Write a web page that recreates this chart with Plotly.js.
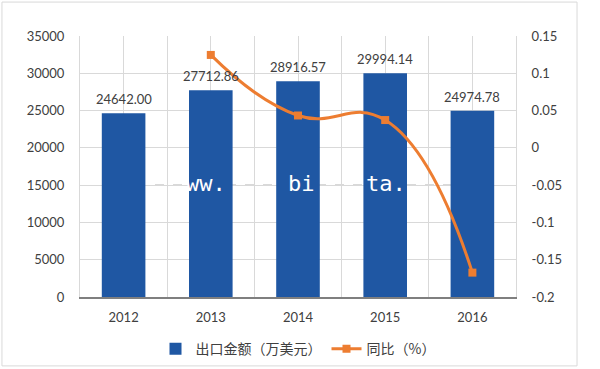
<!DOCTYPE html>
<html>
<head>
<meta charset="utf-8">
<script src="https://cdn.plot.ly/plotly-3.0.1.min.js"></script>
<style>
  html, body { margin: 0; padding: 0; background: #fff; }
  #chart { width: 600px; height: 369px; }
</style>
</head>
<body>
<div id="chart"></div>
<script>
// ---- data ----
const years = [2012, 2013, 2014, 2015, 2016];
const yearLabels = ['2012', '2013', '2014', '2015', '2016'];
const exportValues = [24642.00, 27712.86, 28916.57, 29994.14, 24974.78];
const growthYears = [2013, 2014, 2015, 2016];
const growthValues = [0.1246, 0.0434, 0.0373, -0.1673];
const leftTicks = [0, 5000, 10000, 15000, 20000, 25000, 30000, 35000];
const rightTicks = [-0.2, -0.15, -0.1, -0.05, 0, 0.05, 0.1, 0.15];
const rightTickText = ['-0.2', '-0.15', '-0.1', '-0.05', '0', '0.05', '0.1', '0.15'];
const barName = '出口金额（万美元）';
const lineName = '同比（%）';

const FONT = 'Lato, "Noto Sans CJK SC", sans-serif';
const TXT = '#404040';
const GRID = '#d9d9d9';
const BLUE = '#1f57a3';
const ORANGE = '#ed7d31';

const bars = {
  type: 'bar',
  x: years,
  y: exportValues,
  name: barName,
  width: 0.5,
  marker: { color: BLUE },
  hoverinfo: 'x+y'
};

const line = {
  type: 'scatter',
  mode: 'lines+markers',
  x: growthYears,
  y: growthValues,
  name: lineName,
  yaxis: 'y2',
  line: { color: ORANGE, width: 3, shape: 'spline', smoothing: 1.3 },
  marker: { color: ORANGE, symbol: 'square', size: 8 }
};

const labelAnnotations = years.map((yr, i) => ({
  x: yr, y: exportValues[i], xref: 'x', yref: 'y',
  text: exportValues[i].toFixed(2),
  showarrow: false, yanchor: 'middle', yshift: 14,
  font: { family: FONT, size: 13, color: TXT }
}));

const watermark = [
  { text: 'ww.', x: 0.289 },
  { text: 'bi', x: 0.509 },
  { text: 'ta.', x: 0.702 }
].map(w => ({
  x: w.x, y: 0.433, xref: 'paper', yref: 'paper', text: w.text,
  showarrow: false, xanchor: 'center', yanchor: 'middle',
  font: { family: '"DejaVu Sans Mono", monospace', size: 22, color: '#ffffff' }
}));

const layout = {
  width: 600,
  height: 369,
  margin: { l: 80, r: 84, t: 36, b: 72, pad: 0, autoexpand: false },
  paper_bgcolor: '#ffffff',
  plot_bgcolor: '#ffffff',
  font: { family: FONT, size: 13, color: TXT },
  showlegend: true,
  legend: {
    orientation: 'h', x: 0.5, xanchor: 'center',
    yref: 'container', y: 0.054, yanchor: 'middle',
    font: { family: '"Noto Sans CJK SC", sans-serif', size: 14, color: TXT },
    traceorder: 'normal'
  },
  xaxis: {
    range: [2011.5, 2016.5],
    tickmode: 'array', tickvals: years, ticktext: yearLabels,
    showgrid: true, gridcolor: GRID, gridwidth: 1,
    minor: { dtick: 0.5, tick0: 2011.5, showgrid: true, gridcolor: GRID, gridwidth: 1 },
    showline: true, linecolor: '#7f7f7f', linewidth: 1.5,
    ticks: 'outside', ticklen: 8, tickcolor: 'rgba(0,0,0,0)',
    tickfont: { family: FONT, size: 13, color: TXT },
    zeroline: false, fixedrange: true, automargin: false
  },
  yaxis: {
    range: [0, 35000],
    tickmode: 'array', tickvals: leftTicks, tickformat: 'd',
    showgrid: true, gridcolor: GRID, gridwidth: 1,
    showline: true, linecolor: GRID, mirror: true,
    ticks: 'outside', ticklen: 12, tickcolor: 'rgba(0,0,0,0)',
    tickfont: { family: FONT, size: 13, color: TXT },
    zeroline: false, automargin: false
  },
  yaxis2: {
    overlaying: 'y', side: 'right',
    range: [-0.2, 0.15],
    tickmode: 'array', tickvals: rightTicks, ticktext: rightTickText,
    showgrid: false, zeroline: false, showline: false,
    ticks: 'outside', ticklen: 12, tickcolor: 'rgba(0,0,0,0)',
    tickfont: { family: FONT, size: 13, color: TXT }, automargin: false
  },
  annotations: labelAnnotations.concat(watermark),
  shapes: [
    { type: 'line', xref: 'paper', yref: 'paper', x0: 0.172, x1: 0.860, y0: 0.429, y1: 0.429,
      line: { color: '#b0b0b0', width: 1, dash: 'dash' }, layer: 'below' },
    { type: 'rect', xref: 'paper', yref: 'paper', x0: -0.179, x1: 1.14, y0: -0.264, y1: 1.130,
      line: { color: GRID, width: 1 }, fillcolor: 'rgba(0,0,0,0)', layer: 'below' }
  ]
};

Plotly.newPlot('chart', [bars, line], layout, { displayModeBar: false, staticPlot: true });
</script>
</body>
</html>
